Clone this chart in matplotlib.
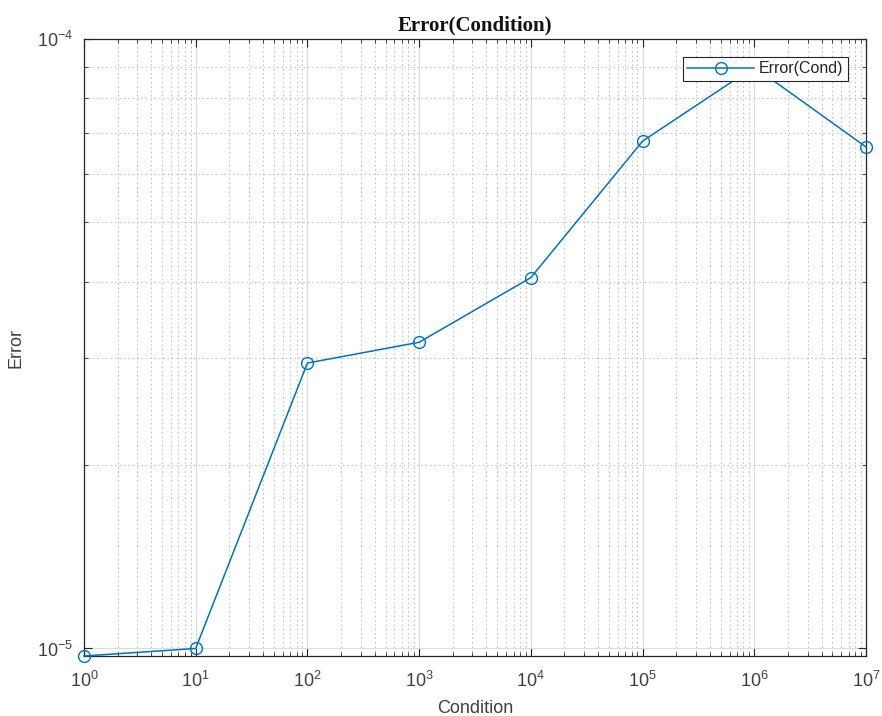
import numpy as np
import matplotlib
matplotlib.use("Agg")
import matplotlib.pyplot as plt
from matplotlib.ticker import LogLocator, NullFormatter

# condition numbers and measured errors
condition = [1e0, 1e1, 1e2, 1e3, 1e4, 1e5, 1e6, 1e7]
error = [9.72e-6, 1.0e-5, 2.94e-5, 3.18e-5, 4.06e-5, 6.8e-5, 9.0e-5, 6.65e-5]

line_color = '#0072BD'
text_color = '#404040'

plt.rcParams['font.family'] = ['Liberation Sans', 'DejaVu Sans']

fig = plt.figure(figsize=(8.82, 7.16), dpi=100)
ax = fig.add_axes([0.0952, 0.0838, 0.8867, 0.8617])

ax.loglog(condition, error, '-o', color=line_color, lw=1.1,
          markersize=8.5, markerfacecolor='none', markeredgewidth=1.0,
          label='Error(Cond)', zorder=3, clip_on=False)

ax.set_xlim(1e0, 1e7)
ax.set_ylim(min(error), 1e-4)

ax.xaxis.set_major_locator(LogLocator(base=10, numticks=20))
ax.xaxis.set_minor_locator(LogLocator(base=10, subs=np.arange(2, 10), numticks=20))
ax.yaxis.set_major_locator(LogLocator(base=10, numticks=20))
ax.yaxis.set_minor_locator(LogLocator(base=10, subs=np.arange(2, 10), numticks=20))
ax.xaxis.set_minor_formatter(NullFormatter())
ax.yaxis.set_minor_formatter(NullFormatter())

ax.grid(True, which='major', color='#dcdcdc', lw=0.8, ls='-')
ax.grid(True, which='minor', color='#bdbdbd', lw=0.7, ls=(0, (1.5, 3)))
ax.set_axisbelow(True)

ax.tick_params(which='both', direction='in', top=True, right=True,
               labelsize=13, colors='#262626', labelcolor=text_color)
ax.tick_params(which='major', length=6, width=0.8)
ax.tick_params(axis='x', which='major', pad=11)
ax.tick_params(axis='y', which='major', pad=8)
ax.tick_params(which='minor', length=3, width=0.6)
for spine in ax.spines.values():
    spine.set_color('#262626')
    spine.set_linewidth(0.9)

ax.set_xlabel('Condition', fontsize=13, color=text_color, labelpad=6)
ax.set_ylabel('Error', fontsize=13, color=text_color, labelpad=9)
ax.set_title('Error(Condition)', fontsize=15, fontweight='bold',
             family='Liberation Serif', color='#111111', pad=6)

leg = ax.legend(loc='upper right', fontsize=11.5, handlelength=4.2,
                borderpad=0.3, handletextpad=0.3, borderaxespad=1.1,
                fancybox=False, framealpha=1.0)
leg.get_frame().set_edgecolor('#262626')
leg.get_frame().set_linewidth(0.8)
leg.set_zorder(5)
for t in leg.get_texts():
    t.set_color('#262626')

fig.savefig('out.png', dpi=100)
